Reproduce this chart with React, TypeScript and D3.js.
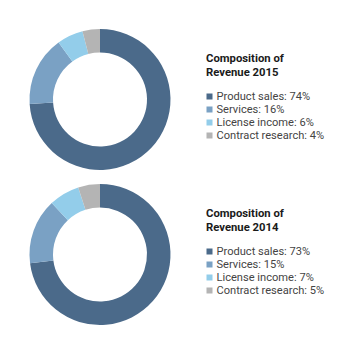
import React from "react";
import * as d3 from "d3";

const categories = ["Product sales", "Services", "License income", "Contract research"];
const values2015 = [74, 16, 6, 4];
const values2014 = [73, 15, 7, 5];
const colors = ["#4b6a8a", "#7aa1c4", "#93cdea", "#b4b4b4"];
const years = ["2015", "2014"];

const W = 355;
const H = 355;

function Donut({ values, year, offsetY }: { values: number[]; year: string; offsetY: number }) {
  const pie = d3.pie<number>().sort(null).value((d) => d);
  const arc = d3.arc<d3.PieArcDatum<number>>().innerRadius(47).outerRadius(70.5);
  const arcs = pie(values);
  const legendY = d3.scaleLinear().domain([0, 1]).range([100, 113]);
  return (
    <g transform={`translate(0,${offsetY})`}>
      <g transform="translate(100,99.5)">
        {arcs.map((a, i) => (
          <path key={i} d={arc(a) || ""} fill={colors[i]} />
        ))}
      </g>
      <text x={206} y={62} fontFamily="Roboto" fontWeight="bold" fontSize={11.3} fill="#1a1a1a">
        Composition of
      </text>
      <text x={206} y={76} fontFamily="Roboto" fontWeight="bold" fontSize={11.3} fill="#1a1a1a">
        Revenue {year}
      </text>
      {categories.map((c, i) => (
        <g key={c}>
          <rect x={206.5} y={legendY(i) - 6.5} width={6} height={6} fill={colors[i]} />
          <text x={216.5} y={legendY(i)} fontFamily="Roboto" fontSize={11.1} fill="#444">
            {c}: {values[i]}%
          </text>
        </g>
      ))}
    </g>
  );
}

export default function App() {
  return (
    <svg width={W} height={H} style={{ position: "absolute", left: 0, top: 0 }}>
      <rect width={W} height={H} fill="#fff" />
      <Donut values={values2015} year={years[0]} offsetY={0} />
      <Donut values={values2014} year={years[1]} offsetY={155} />
    </svg>
  );
}
